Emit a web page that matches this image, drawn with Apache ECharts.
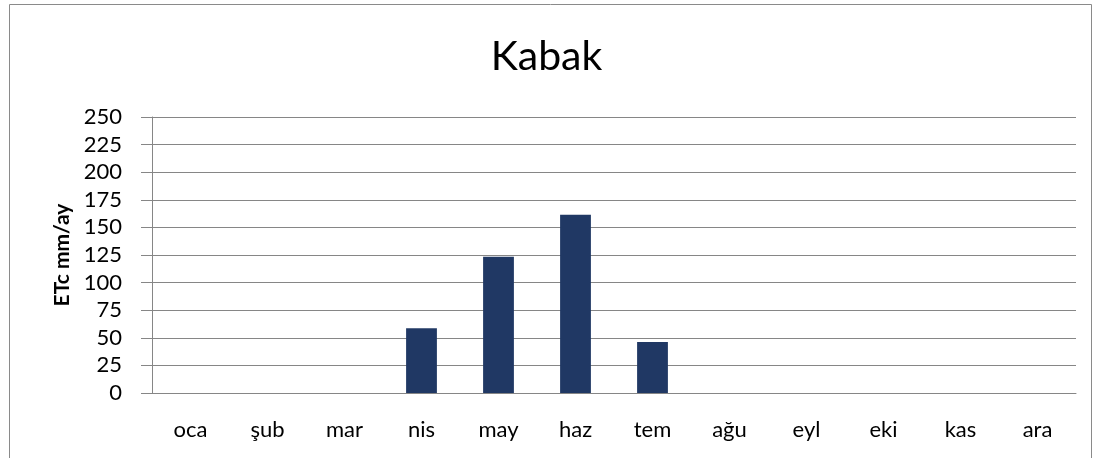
<!DOCTYPE html>
<html>
<head>
<meta charset="utf-8">
<script src="https://cdn.jsdelivr.net/npm/echarts@6/dist/echarts.min.js"></script>
<style>
  html, body { margin: 0; padding: 0; background: #fff; }
  #kabak-chart { width: 1093px; height: 458px; }
</style>
</head>
<body>
<div id="kabak-chart"></div>
<script>
var months = ['oca', 'şub', 'mar', 'nis', 'may', 'haz', 'tem', 'ağu', 'eyl', 'eki', 'kas', 'ara'];
var etc = [0, 0, 0, 58.6, 123.5, 161.4, 46.3, 0, 0, 0, 0, 0];
var yTicks = [0, 25, 50, 75, 100, 125, 150, 175, 200, 225, 250];

var kabakChart = echarts.init(document.getElementById('kabak-chart'));

var kabakOption = {
    backgroundColor: '#fff',
    textStyle: { fontFamily: 'Lato, "Open Sans", sans-serif' },
    title: {
        text: 'Kabak',
        left: 'center',
        top: 31,
        textStyle: { fontSize: 41, fontWeight: 'normal', color: '#000', fontFamily: 'Lato' }
    },
    graphic: [{
        type: 'rect',
        shape: { x: 9.5, y: 4.5, width: 1082, height: 460 },
        style: { fill: 'none', stroke: '#8a8a8a', lineWidth: 1 },
        silent: true
    }],
    grid: { left: 152, right: 17, top: 117, bottom: 65 },
    xAxis: {
        type: 'category',
        data: months,
        axisTick: { show: false },
        axisLine: { lineStyle: { color: '#868686' } },
        axisLabel: { color: '#000', fontSize: 22, margin: 26 }
    },
    yAxis: {
        type: 'value',
        min: yTicks[0],
        max: yTicks[yTicks.length - 1],
        interval: 25,
        name: 'ETc mm/ay',
        nameLocation: 'middle',
        nameRotate: 90,
        nameGap: 79,
        nameTextStyle: { fontSize: 21, fontWeight: 'bold', color: '#000' },
        axisLine: { show: true, lineStyle: { color: '#868686' } },
        axisTick: { show: true, length: 11, lineStyle: { color: '#868686' } },
        axisLabel: { color: '#000', fontSize: 22, margin: 30 },
        splitLine: { lineStyle: { color: '#868686', width: 1 } }
    },
    series: [{
        name: 'ETc',
        type: 'bar',
        data: etc,
        barWidth: '40%',
        itemStyle: { color: '#203864' }
    }]
};

kabakChart.setOption(kabakOption);
</script>
</body>
</html>
